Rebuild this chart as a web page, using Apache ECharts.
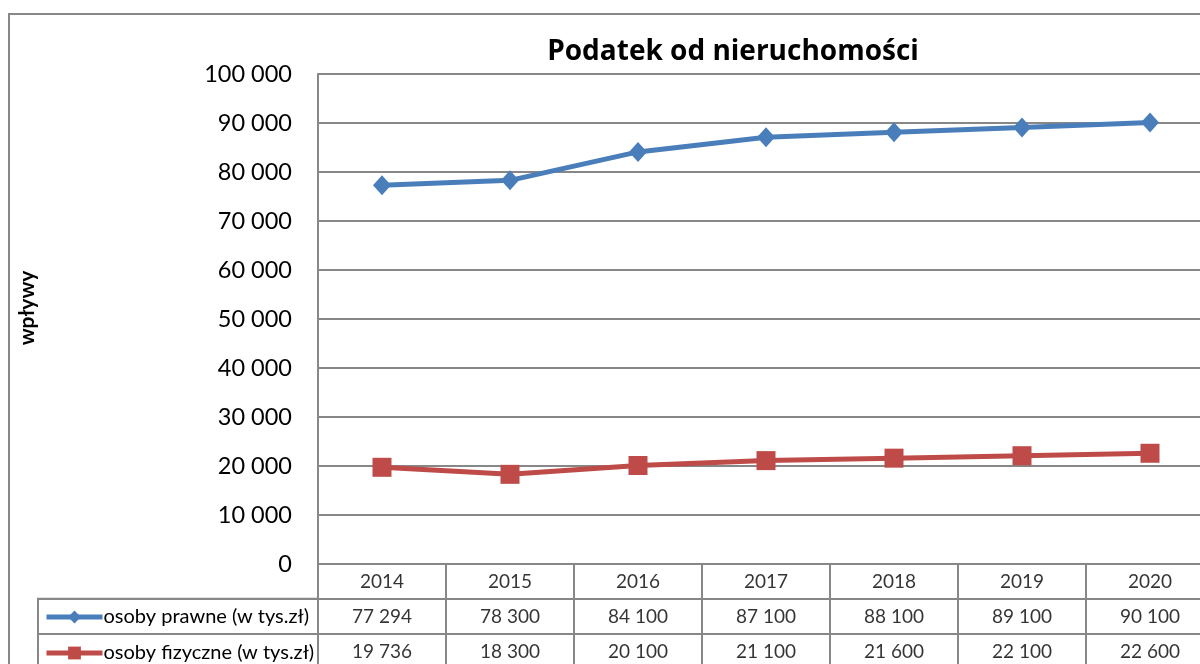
<!DOCTYPE html>
<html>
<head>
<meta charset="utf-8">
<script src="https://cdn.jsdelivr.net/npm/echarts@6/dist/echarts.min.js"></script>
<style>
  html, body { margin: 0; padding: 0; background: #fff; }
  #chart { width: 1200px; height: 664px; }
</style>
</head>
<body>
<div id="chart"></div>
<script>
// dane
const years = ['2014', '2015', '2016', '2017', '2018', '2019', '2020'];
const prawne = [77294, 78300, 84100, 87100, 88100, 89100, 90100];
const fizyczne = [19736, 18300, 20100, 21100, 21600, 22100, 22600];
const seriesNames = ['osoby prawne (w tys.zł)', 'osoby fizyczne (w tys.zł)'];
const tableRows = ['rok', 'prawne', 'fizyczne'];

const FONT = 'Lato';
const GRID_COLOR = '#878787';
const BLUE = '#4a7ebb';
const RED = '#be4b48';

// format liczb: 77 294
function fmt(v) {
  return String(v).replace(/\B(?=(\d{3})+(?!\d))/g, ' ');
}

// komórki tabeli pod wykresem
const cells = [];
years.forEach((y, i) => {
  cells.push({ value: [i, 0], text: y });
  cells.push({ value: [i, 1], text: fmt(prawne[i]) });
  cells.push({ value: [i, 2], text: fmt(fizyczne[i]) });
});

const legendText = { fontFamily: FONT, fontSize: 20, color: '#000', padding: [0, 0, 0, -4] };

const myChart = echarts.init(document.getElementById('chart'));

const option = {
  animation: false,
  textStyle: { fontFamily: FONT },
  title: {
    text: 'Podatek od nieruchomości',
    left: 728,
    textAlign: 'center',
    top: 33,
    textStyle: { fontFamily: 'Open Sans', fontSize: 28, fontWeight: 'bold', color: '#000' }
  },
  legend: [
    {
      left: 44,
      top: 607,
      padding: 0,
      itemWidth: 56,
      itemHeight: 16,
      data: [seriesNames[0]],
      lineStyle: { width: 5 },
      textStyle: legendText
    },
    {
      left: 44,
      top: 643,
      padding: 0,
      itemWidth: 56,
      itemHeight: 16,
      data: [seriesNames[1]],
      lineStyle: { width: 5 },
      textStyle: legendText
    }
  ],
  graphic: [{
    type: 'rect',
    shape: { x: 9, y: 14, width: 1220, height: 700 },
    style: { fill: 'none', stroke: GRID_COLOR, lineWidth: 2 },
    silent: true
  }],
  grid: [
    { left: 318, top: 74, width: 896, height: 490, outerBoundsMode: 'none' },
    { left: 318, top: 564, width: 896, height: 104, outerBoundsMode: 'none', show: true, borderColor: GRID_COLOR, borderWidth: 2 },
    { left: 38, top: 598.7, width: 280, height: 69.3, outerBoundsMode: 'none', show: true, borderColor: GRID_COLOR, borderWidth: 2 }
  ],
  xAxis: [
    {
      gridIndex: 0,
      type: 'category',
      data: years,
      boundaryGap: true,
      axisLine: { show: true, lineStyle: { color: GRID_COLOR, width: 2 } },
      axisTick: { show: false },
      axisLabel: { show: false }
    },
    {
      gridIndex: 1,
      type: 'category',
      data: years,
      boundaryGap: true,
      axisLine: { show: false },
      axisTick: { show: false },
      axisLabel: { show: false },
      splitLine: { show: true, interval: 0, lineStyle: { color: GRID_COLOR, width: 2 } }
    },
    {
      gridIndex: 2,
      type: 'category',
      data: [''],
      show: false
    }
  ],
  yAxis: [
    {
      gridIndex: 0,
      type: 'value',
      min: 0,
      max: 100000,
      interval: 10000,
      name: 'wpływy',
      nameLocation: 'middle',
      nameGap: 280,
      nameRotate: 90,
      nameTextStyle: { fontFamily: FONT, fontSize: 21, fontWeight: 'bold', color: '#000', padding: [0, 0, 0, 22] },
      axisLine: { show: true, lineStyle: { color: GRID_COLOR, width: 2 } },
      axisTick: { show: false },
      axisLabel: {
        margin: 26,
        fontFamily: FONT,
        fontSize: 23.5,
        color: '#000',
        formatter: v => fmt(v)
      },
      splitLine: { show: true, lineStyle: { color: GRID_COLOR, width: 2 } }
    },
    {
      gridIndex: 1,
      type: 'category',
      data: tableRows,
      inverse: true,
      boundaryGap: true,
      axisLine: { show: false },
      axisTick: { show: false },
      axisLabel: { show: false },
      splitLine: { show: true, interval: 0, lineStyle: { color: GRID_COLOR, width: 2 } }
    },
    {
      gridIndex: 2,
      type: 'category',
      data: tableRows.slice(1),
      inverse: true,
      boundaryGap: true,
      axisLine: { show: false },
      axisTick: { show: false },
      axisLabel: { show: false },
      splitLine: { show: true, interval: 0, lineStyle: { color: GRID_COLOR, width: 2 } }
    }
  ],
  series: [
    {
      name: seriesNames[0],
      type: 'line',
      xAxisIndex: 0,
      yAxisIndex: 0,
      data: prawne,
      symbol: 'diamond',
      symbolSize: [18, 20],
      lineStyle: { color: BLUE, width: 5 },
      itemStyle: { color: BLUE }
    },
    {
      name: seriesNames[1],
      type: 'line',
      xAxisIndex: 0,
      yAxisIndex: 0,
      data: fizyczne,
      symbol: 'rect',
      symbolSize: 19,
      lineStyle: { color: RED, width: 5 },
      itemStyle: { color: RED }
    },
    {
      type: 'scatter',
      xAxisIndex: 1,
      yAxisIndex: 1,
      data: cells,
      symbolSize: 1,
      itemStyle: { color: 'rgba(0,0,0,0)' },
      silent: true,
      label: {
        show: true,
        position: 'inside',
        offset: [0, 1],
        fontFamily: FONT,
        fontSize: 19,
        color: '#000',
        formatter: p => p.data.text
      }
    }
  ]
};

myChart.setOption(option);

window.addEventListener('resize', () => {
  myChart.resize();
});
</script>
</body>
</html>
